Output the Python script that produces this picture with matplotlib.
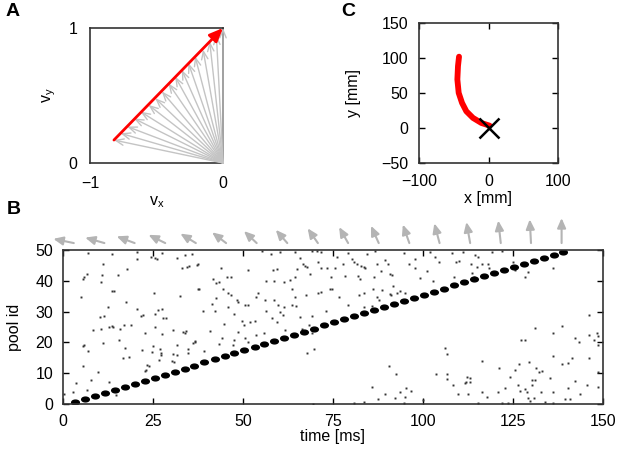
import matplotlib
matplotlib.use('Agg')
import matplotlib.pyplot as plt
from matplotlib.path import Path
from matplotlib.transforms import Affine2D

plt.rcParams['font.family'] = ['Liberation Sans', 'DejaVu Sans']
plt.rcParams['font.size'] = 11.5
plt.rcParams['mathtext.default'] = 'regular'

# desired velocity vectors (panel A and arrows above B)
vx = [-0.82, -0.77, -0.72, -0.67, -0.62, -0.56, -0.51, -0.46, -0.41,
      -0.36, -0.31, -0.26, -0.21, -0.15, -0.10, -0.05, 0.0]
vy = [0.17, 0.22, 0.27, 0.33, 0.38, 0.43, 0.48, 0.53, 0.59,
      0.64, 0.69, 0.74, 0.79, 0.84, 0.90, 0.95, 1.0]
# time at which each vector is shown above the raster
arrow_t = [3.0, 11.5, 19.9, 28.4, 36.9, 45.3, 53.8, 62.3, 70.8,
           79.2, 87.7, 96.2, 104.6, 113.1, 121.6, 130.0, 138.5]

# burst time of each pool along the sequence
pool_id = list(range(50))
pool_t = [3.3, 6.1, 8.8, 11.6, 14.4, 17.2, 19.9, 22.7, 25.5, 28.2,
          31.0, 33.8, 36.5, 39.3, 42.1, 44.9, 47.6, 50.4, 53.2, 55.9,
          58.7, 61.5, 64.2, 67.0, 69.8, 72.6, 75.3, 78.1, 80.9, 83.6,
          86.4, 89.2, 91.9, 94.7, 97.5, 100.3, 103.0, 105.8, 108.6, 111.3,
          114.1, 116.9, 119.6, 122.4, 125.2, 128.0, 130.7, 133.5, 136.3, 139.0]

# background spikes
spike_t = [7.0, 13.5, 20.5, 20.6, 24.4, 25.6, 26.0, 27.4, 31.6, 33.9,
           35.7, 33.0, 34.4, 35.1, 37.1, 11.2, 6.6, 5.8, 5.5, 10.7,
           10.6, 15.4, 17.7, 13.5, 14.2, 25.4, 5.0, 37.6, 17.5, 12.6,
           20.5, 10.3, 11.5, 26.5, 27.6, 22.3, 21.6, 25.6, 27.9, 28.6,
           32.5, 8.2, 10.5, 12.9, 13.5, 14.0, 17.0, 18.8, 15.8, 25.6,
           22.8, 27.6, 30.5, 33.4, 33.9, 34.2, 11.2, 15.5, 5.6, 5.8,
           6.9, 17.2, 21.9, 24.9, 24.6, 27.0, 27.1, 27.3, 31.6, 34.8,
           36.2, 36.7, 16.6, 18.4, 24.0, 30.5, 31.8, 34.6, 26.7, 5.6,
           23.1, 22.9, 23.4, 9.6, 7.8, 3.6, 2.9, 6.6, 12.9, 14.7,
           0.3, 30.2, 30.7,
           55.2, 57.8, 60.3, 64.5, 69.1, 70.5, 71.7, 65.7, 67.3, 67.8,
           66.8, 64.9, 70.8, 71.7, 37.4, 43.9, 51.5, 58.3, 59.4, 68.6,
           73.3, 41.8, 43.2, 42.5, 45.5, 46.6, 56.4, 58.6, 61.5, 63.1,
           64.5, 37.8, 44.4, 45.8, 46.7, 42.5, 41.5, 45.8, 48.3, 48.7,
           50.6, 51.5, 54.1, 53.6, 56.0, 58.7, 59.7, 61.5, 63.7, 64.7,
           64.5, 63.6, 67.5, 70.8, 71.7, 74.7, 73.0, 39.0, 42.3, 47.6,
           56.4, 58.0, 59.4, 60.3, 61.2, 61.7, 65.7, 68.2, 69.3, 49.7,
           50.4, 52.0, 53.4, 44.6, 48.6, 40.7, 44.1, 43.2, 47.6, 50.6,
           51.5, 47.3, 53.6, 55.7, 66.3, 67.4, 69.3, 39.3, 69.6, 67.7,
           36.7, 69.4,
           76.1, 79.3, 84.4, 86.7, 94.6, 102.0, 108.0, 111.2, 80.2, 80.9,
           81.6, 82.7, 83.5, 83.9, 75.6, 77.9, 87.2, 88.4, 89.5, 90.4,
           90.7, 91.3, 96.2, 97.8, 97.8, 101.2, 103.4, 104.5, 109.2, 110.1,
           74.5, 78.4, 81.9, 82.4, 86.4, 99.2, 102.9, 108.5, 91.8, 86.2,
           88.6, 90.9, 93.5, 95.0, 92.7, 83.5, 82.1, 87.2, 87.8, 76.8,
           79.1, 83.5, 85.8, 89.5, 91.1, 74.2, 106.1, 106.6, 90.6, 92.4,
           85.8, 89.5, 87.6, 92.3, 93.6, 95.3, 96.6, 95.0, 100.1, 103.6,
           106.6, 106.6, 108.3, 109.8, 112.0, 112.4, 80.7, 83.5, 94.6,
           114.5, 115.4, 116.3, 113.4, 114.9, 118.0, 118.4, 113.6, 114.3,
           119.1, 121.9, 125.1, 125.6, 128.4, 129.3, 136.2, 146.0, 148.3, 148.6,
           147.6, 146.1, 148.6, 131.1, 136.2, 138.7, 142.1, 127.3, 128.4, 136.2,
           141.3, 146.0, 116.5, 121.0, 125.6, 126.7, 129.5, 131.3, 132.3, 133.0,
           124.2, 135.3, 138.6, 140.2, 143.2, 148.6, 112.2, 113.1, 113.0, 111.7,
           116.5, 117.7, 120.8, 122.8, 126.5, 127.0, 128.4, 130.2, 131.1, 130.2,
           129.3, 129.8, 128.8, 130.7, 132.8, 136.2, 140.4, 142.3, 145.5, 148.6,
           139.5, 140.7, 143.6, 115.4, 121.9, 123.7, 133.9, 136.2]
spike_id = [48.9, 48.6, 49.2, 47.1, 47.6, 47.3, 47.0, 48.9, 47.5, 48.4,
            48.6, 44.2, 44.6, 44.9, 45.1, 45.4, 42.1, 41.3, 40.5, 41.9,
            39.7, 41.9, 43.8, 36.7, 36.7, 36.2, 34.6, 37.5, 33.0, 31.5,
            31.0, 28.3, 28.7, 30.5, 30.7, 28.9, 28.5, 29.2, 28.0, 28.0,
            35.1, 24.0, 24.3, 25.1, 25.3, 25.1, 25.8, 25.8, 24.5, 24.9,
            23.2, 22.7, 24.0, 23.5, 23.1, 23.7, 19.9, 20.8, 18.8, 19.1,
            17.2, 18.3, 17.4, 18.9, 17.0, 17.8, 16.4, 15.9, 19.1, 18.0,
            19.7, 20.4, 14.8, 15.3, 12.4, 16.1, 15.9, 16.4, 14.3, 12.3,
            11.2, 10.8, 12.6, 10.3, 7.8, 6.9, 4.0, 4.5, 7.2, 2.9,
            3.4, 14.0, 13.5,
            49.7, 48.7, 49.4, 49.2, 49.7, 49.7, 49.2, 47.3, 44.9, 44.6,
            45.6, 43.8, 46.2, 44.2, 45.3, 44.3, 43.4, 43.6, 43.8, 42.1,
            44.0, 40.5, 39.7, 39.2, 41.1, 41.3, 39.9, 39.9, 39.5, 40.2,
            41.1, 37.5, 37.3, 36.1, 35.4, 34.3, 32.4, 31.6, 33.7, 33.0,
            32.1, 32.1, 35.9, 34.6, 33.7, 33.7, 32.1, 31.6, 32.1, 31.8,
            34.6, 37.5, 35.4, 36.2, 36.4, 37.3, 30.3, 30.3, 30.2, 29.1,
            30.3, 27.8, 26.7, 30.0, 28.9, 24.0, 28.3, 25.6, 28.7, 27.0,
            25.6, 26.7, 26.9, 26.0, 23.5, 23.7, 21.3, 19.5, 20.8, 21.3,
            20.2, 19.1, 22.4, 22.9, 24.3, 23.5, 22.9, 17.2, 17.8, 16.6,
            20.2, 0.1,
            47.8, 48.9, 48.6, 49.7, 48.9, 49.2, 49.1, 49.4, 47.1, 46.2,
            45.6, 44.9, 44.6, 44.0, 44.3, 45.4, 45.6, 43.2, 46.7, 45.3,
            42.2, 41.9, 45.6, 47.1, 44.3, 43.2, 47.6, 46.2, 46.2, 46.5,
            41.3, 41.5, 41.5, 40.6, 41.1, 41.0, 40.0, 41.3, 38.4, 37.2,
            37.0, 35.7, 36.8, 36.1, 35.9, 36.1, 35.4, 34.6, 33.7, 34.6,
            32.3, 31.6, 31.8, 31.6, 35.4, 37.3, 18.1, 16.2, 12.3, 9.8,
            5.4, 3.2, 1.6, 2.1, 4.0, 5.1, 4.3, 2.4, 1.3, 9.6,
            9.6, 8.0, 6.1, 3.4, 7.0, 3.2, 0.4, 0.7, 0.4,
            48.4, 47.8, 45.6, 45.3, 44.6, 45.3, 44.2, 42.4, 41.3,
            49.4, 49.7, 46.2, 43.5, 41.1, 42.7, 44.2, 28.9, 23.2, 22.2,
            20.8, 22.4, 19.3, 24.8, 22.9, 25.3, 21.5, 20.8, 20.8, 15.7,
            14.8, 14.8, 13.9, 11.6, 11.0, 13.0, 13.5, 11.6, 10.3, 10.7,
            8.9, 8.5, 12.9, 13.4, 20.2, 10.5, 8.9, 8.5, 7.0, 6.7,
            4.0, 2.4, 4.0, 5.1, 6.1, 4.3, 4.8, 7.8, 7.8, 6.1,
            2.1, 0.9, 4.0, 1.8, 4.0, 4.0, 5.1, 7.4, 6.1, 5.6,
            1.6, 1.6, 3.1, 0.4, 0.2, 0.2, 0.5, 0.4]

# hand trajectory (panel C)
traj_x = [-42.4, -43.9, -44.8, -42.9, -38.1, -31.9, -22.3, -10.3, 1.7]
traj_y = [101.9, 88.5, 69.4, 50.2, 35.9, 23.9, 14.4, 7.2, 3.3]
target_x, target_y = 0, 0

W, H = 622, 450
fig = plt.figure(figsize=(W / 100, H / 100), dpi=100)

def frame(ax):
    for s in ax.spines.values():
        s.set_linewidth(1.2)
        s.set_color('#333333')

# ---- A
axA = fig.add_axes([90 / W, 1 - 163 / H, 133 / W, 135 / H])
for x, y in zip(vx, vy):
    axA.annotate('', xy=(x, y), xytext=(0, 0),
                 arrowprops=dict(arrowstyle='->,head_length=0.5,head_width=0.2',
                                 color='#c4c4c4', lw=1.0, shrinkA=0, shrinkB=0))
axA.annotate('', xy=(vx[-1], vy[-1]), xytext=(vx[0], vy[0]),
             arrowprops=dict(arrowstyle='-|>,head_length=0.7,head_width=0.3',
                             color='red', lw=2, shrinkA=0, shrinkB=0))
axA.set_xlim(-1, 0)
axA.set_ylim(0, 1)
axA.set_xticks([-1, 0])
axA.set_yticks([0, 1])
axA.tick_params(length=0, pad=9)
axA.set_xlabel('$v_x$', labelpad=3)
axA.set_ylabel('$v_y$', labelpad=8)
frame(axA)

# ---- B
axB = fig.add_axes([63 / W, 1 - 404 / H, 540 / W, 154 / H])
axB.plot(spike_t, spike_id, 's', ms=1.4, color='#333333', mec='none')
ell = Path.unit_circle().transformed(Affine2D().scale(1.6, 1.0))
axB.plot(pool_t, [k + 0.5 for k in pool_id], ls='none', marker=ell,
         ms=5.5, color='black')
for t, x, y in zip(arrow_t, vx, vy):
    axB.annotate('', xy=(t, 1.045), xycoords=('data', 'axes fraction'),
                 xytext=(x * 18, y * 18), textcoords='offset points',
                 arrowprops=dict(arrowstyle='<|-,head_length=0.5,head_width=0.22',
                                 color='#b4b4b4', lw=1.5, shrinkA=0, shrinkB=0))
axB.set_xlim(0, 150)
axB.set_ylim(0, 50)
axB.set_xticks(range(0, 151, 25))
axB.set_yticks(range(0, 51, 10))
axB.tick_params(direction='in', top=True, right=True, length=4, width=1, pad=7)
axB.set_xlabel('time [ms]', labelpad=0)
axB.set_ylabel('pool id', labelpad=10)
frame(axB)

# ---- C
axC = fig.add_axes([419 / W, 1 - 163 / H, 139 / W, 140 / H])
axC.plot(traj_x, traj_y, color='red', lw=4.2, solid_capstyle='round',
         solid_joinstyle='round')
axC.plot([target_x], [target_y], 'x', color='black', ms=15, mew=1.8)
axC.set_xlim(-100, 100)
axC.set_ylim(-50, 150)
axC.set_xticks([-100, 0, 100])
axC.set_yticks([-50, 0, 50, 100, 150])
axC.tick_params(direction='in', top=True, right=True, length=4, width=1, pad=8)
axC.set_xlabel('x [mm]', labelpad=1)
axC.set_ylabel('y [mm]', labelpad=14)
frame(axC)

for label, x, y in [('A', 13, 12), ('B', 14, 210), ('C', 348, 11)]:
    fig.text(x / W, 1 - y / H, label, fontsize=14, fontweight='bold',
             ha='center', va='center')

fig.savefig('out.png', dpi=100)
